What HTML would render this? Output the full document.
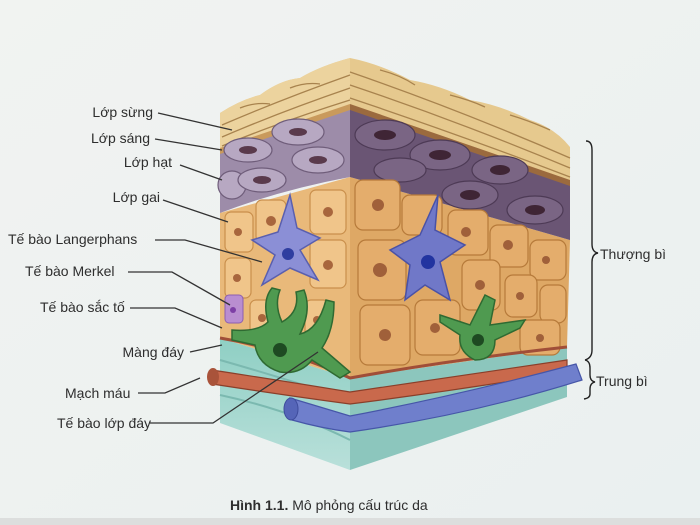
<!DOCTYPE html>
<html><head><meta charset="utf-8"><style>
html,body{margin:0;padding:0;background:#eef1ef;}
svg{display:block}
text{font-family:"Liberation Sans",sans-serif;fill:#2e2e2e;}
</style></head><body>
<svg width="700" height="525" viewBox="0 0 700 525" xmlns="http://www.w3.org/2000/svg">
<defs>
<linearGradient id="bg" x1="0" y1="0" x2="1" y2="1"><stop offset="0" stop-color="#f1f3f1"/><stop offset="1" stop-color="#eaf0f0"/></linearGradient>
<linearGradient id="derm" x1="0" y1="0" x2="0" y2="1"><stop offset="0" stop-color="#8fcfc4"/><stop offset="1" stop-color="#b9e0da"/></linearGradient>
</defs>
<rect width="700" height="525" fill="url(#bg)"/>
<rect y="518" width="700" height="7" fill="#dcdedd"/>

<!-- dermis -->
<polygon points="220,338 350,378 350,470 220,423" fill="url(#derm)"/>
<polygon points="350,378 567,347 567,397 350,470" fill="#8cc6bd"/>
<path d="M220,360 Q290,380 350,400 M220,395 Q290,410 350,440 M350,420 Q450,400 567,375" stroke="#7bb9b0" stroke-width="2" fill="none"/>
<!-- orange -->
<polygon points="220,213 350,177 350,378 220,338" fill="#e9b97a"/>
<polygon points="350,177 570,240 567,347 350,378" fill="#dea865"/>
<!-- purple -->
<path d="M220,150 L350,107 L570,183 L570,240 Q460,205 350,177 Q280,190 220,213 Z" fill="#9d8ca9"/>
<polygon points="350,107 570,183 570,240 350,177" fill="#6a5574"/>
<!-- corneum with wavy top -->
<path d="M220,150 L220,113 Q240,100 260,95 Q280,80 300,78 Q320,66 350,58 Q380,64 410,80 Q440,85 470,100 Q500,105 530,120 Q555,128 570,147 L570,183 L350,107 Z" fill="#e6c98e"/>
<path d="M350,58 L350,107 L220,150 L220,113 Q240,100 260,95 Q280,80 300,78 Q320,66 350,58Z" fill="#ecd39e"/>
<g stroke="#a8834e" stroke-width="1.3" fill="none">
<path d="M222,125 Q280,100 350,75 M222,137 Q280,112 350,88 M222,146 Q280,122 350,100"/>
<path d="M350,72 Q460,110 570,158 M350,85 Q460,122 570,168 M350,98 Q460,135 570,177"/>
<path d="M240,108 q15,-6 30,-4 M290,88 q15,-6 30,-4 M380,70 q20,5 35,15 M450,95 q20,5 35,12 M510,115 q20,6 40,15"/>
</g>
<path d="M350,104 L570,180 L570,186 L350,110 Z" fill="#9b6a3e"/>
<path d="M220,148 L350,104 L350,110 L220,154Z" fill="#c99a5c"/>

<!-- purple cells front -->
<g fill="#b7a8c2" stroke="#6f5d7a" stroke-width="1.2">
<ellipse cx="248" cy="150" rx="24" ry="12"/><ellipse cx="298" cy="132" rx="26" ry="13"/><ellipse cx="232" cy="185" rx="14" ry="14"/><ellipse cx="262" cy="180" rx="24" ry="12"/><ellipse cx="318" cy="160" rx="26" ry="13"/>
</g>
<g fill="#5a3a4c"><ellipse cx="248" cy="150" rx="9" ry="4"/><ellipse cx="298" cy="132" rx="9" ry="4"/><ellipse cx="262" cy="180" rx="9" ry="4"/><ellipse cx="318" cy="160" rx="9" ry="4"/></g>
<g fill="#7a6584" stroke="#4d3a55" stroke-width="1.2">
<ellipse cx="385" cy="135" rx="30" ry="15"/><ellipse cx="440" cy="155" rx="30" ry="15"/><ellipse cx="500" cy="170" rx="28" ry="14"/><ellipse cx="400" cy="170" rx="26" ry="12"/><ellipse cx="470" cy="195" rx="28" ry="14"/><ellipse cx="535" cy="210" rx="28" ry="14"/>
</g>
<g fill="#3f2535"><ellipse cx="385" cy="135" rx="11" ry="5"/><ellipse cx="440" cy="155" rx="11" ry="5"/><ellipse cx="500" cy="170" rx="10" ry="5"/><ellipse cx="470" cy="195" rx="10" ry="5"/><ellipse cx="535" cy="210" rx="10" ry="5"/></g>

<!-- orange cells -->
<g fill="#f0c58a" stroke="#c98f4c" stroke-width="1.2">
<rect x="225" y="212" width="28" height="40" rx="6"/><rect x="256" y="200" width="30" height="42" rx="6"/><rect x="310" y="190" width="36" height="44" rx="6"/>
<rect x="225" y="258" width="26" height="40" rx="6"/><rect x="310" y="240" width="36" height="48" rx="6"/>
<rect x="250" y="300" width="24" height="36" rx="6"/><rect x="305" y="300" width="24" height="40" rx="6"/>
</g>
<g fill="#a8663d"><circle cx="238" cy="232" r="4"/><circle cx="271" cy="221" r="5"/><circle cx="328" cy="212" r="5"/><circle cx="237" cy="278" r="4"/><circle cx="328" cy="265" r="5"/><circle cx="262" cy="318" r="4"/><circle cx="317" cy="320" r="4"/></g>
<g fill="#e4ad6c" stroke="#b67a3a" stroke-width="1.2">
<rect x="355" y="180" width="45" height="50" rx="8"/><rect x="402" y="195" width="40" height="40" rx="8"/><rect x="448" y="210" width="40" height="45" rx="8"/><rect x="490" y="225" width="38" height="42" rx="8"/><rect x="530" y="240" width="36" height="40" rx="8"/>
<rect x="358" y="240" width="48" height="60" rx="8"/><rect x="462" y="260" width="38" height="50" rx="8"/><rect x="505" y="275" width="32" height="42" rx="8"/><rect x="540" y="285" width="26" height="38" rx="8"/>
<rect x="360" y="305" width="50" height="60" rx="8"/><rect x="415" y="300" width="45" height="55" rx="8"/><rect x="520" y="320" width="40" height="35" rx="8"/>
</g>
<g fill="#a0603a"><circle cx="378" cy="205" r="6"/><circle cx="466" cy="232" r="5"/><circle cx="508" cy="245" r="5"/><circle cx="546" cy="260" r="4"/><circle cx="380" cy="270" r="7"/><circle cx="480" cy="285" r="5"/><circle cx="520" cy="296" r="4"/><circle cx="385" cy="335" r="6"/><circle cx="435" cy="328" r="5"/><circle cx="540" cy="338" r="4"/></g>

<path d="M220,338 Q290,350 350,378 Q450,360 567,347" stroke="#a04e38" stroke-width="3" fill="none"/>

<!-- Langerhans -->
<path d="M290,195 L297,228 L320,238 L300,250 L318,280 L290,268 L262,285 L275,255 L252,240 L278,232 Z" fill="#8b8fd6" stroke="#5a5fae" stroke-width="1.5"/>
<circle cx="288" cy="254" r="6" fill="#2f3ea0"/>
<path d="M438,195 L435,230 L465,245 L440,262 L450,300 L425,285 L405,300 L410,265 L390,250 L420,235 Z" fill="#7078c8" stroke="#4a52a6" stroke-width="1.5"/>
<circle cx="428" cy="262" r="7" fill="#2234a0"/>
<rect x="225" y="295" width="18" height="28" rx="4" fill="#b98ed0" stroke="#8c5fb0"/>
<circle cx="233" cy="310" r="3" fill="#7d3fa5"/>
<!-- melanocytes -->
<path d="M232,330 Q258,332 268,322 Q262,300 272,288 L280,290 Q274,305 282,322 Q300,312 296,292 L304,290 Q312,310 300,334 Q318,330 326,300 L334,302 Q334,330 322,348 L350,372 L340,378 L312,360 Q300,375 280,372 Q258,365 255,345 L232,340 Z" fill="#4f9a50" stroke="#2f6a32" stroke-width="1.5"/>
<circle cx="280" cy="350" r="7" fill="#1e4a22"/>
<path d="M440,315 L470,325 L485,295 L495,300 L490,325 L525,320 L520,328 L495,340 Q495,360 475,360 Q458,352 460,335 L440,322 Z" fill="#4f9a50" stroke="#2f6a32" stroke-width="1.5"/>
<circle cx="478" cy="340" r="6" fill="#1e4a22"/>

<!-- vessels -->
<path d="M212,370 Q290,382 350,392 Q460,376 567,360 L567,372 Q460,390 350,404 Q290,396 212,384 Z" fill="#c9694c" stroke="#8a3f2a" stroke-width="1.2"/>
<ellipse cx="213" cy="377" rx="6" ry="9" fill="#a9533a"/>
<path d="M290,398 Q330,410 350,416 Q460,395 576,364 L582,380 Q470,415 350,432 Q320,428 292,420 Z" fill="#6f7fcc" stroke="#4656a8" stroke-width="1.2"/>
<ellipse cx="291" cy="409" rx="7" ry="11" fill="#5565b8" stroke="#3e4c9c"/>

<g stroke="#333" stroke-width="1.3" fill="none">
<path d="M158,113 L232,130"/><path d="M155,139 L222,150"/><path d="M180,165 L222,180"/><path d="M163,200 L228,222"/>
<path d="M155,240 L185,240 L262,262"/><path d="M128,272 L172,272 L230,305"/><path d="M130,308 L175,308 L222,328"/>
<path d="M190,352 L222,345"/><path d="M138,393 L165,393 L200,378"/><path d="M150,423 L213,423 L318,352"/>
</g>
<g font-size="14">
<text x="153" y="117" text-anchor="end">Lớp sừng</text>
<text x="150" y="143" text-anchor="end">Lớp sáng</text>
<text x="172" y="167" text-anchor="end">Lớp hạt</text>
<text x="160" y="202" text-anchor="end">Lớp gai</text>
<text x="8" y="244">Tế bào Langerphans</text>
<text x="25" y="276">Tế bào Merkel</text>
<text x="40" y="312">Tế bào sắc tố</text>
<text x="184" y="357" text-anchor="end">Màng đáy</text>
<text x="65" y="398">Mạch máu</text>
<text x="57" y="428">Tế bào lớp đáy</text>
<text x="600" y="259">Thượng bì</text>
<text x="596" y="386">Trung bì</text>
</g>
<g stroke="#222" stroke-width="1.4" fill="none">
<path d="M586,141 Q592,141 592,150 L592,244 Q592,252 598,253 Q592,254 592,262 L592,350 Q592,358 585,360"/>
<path d="M585,360 Q590,361 590,368 L590,375 Q590,381 595,382 Q590,383 590,389 L590,394 Q590,398 584,399"/>
</g>
<text x="230" y="510" font-size="14"><tspan font-weight="bold">Hình 1.1.</tspan> Mô phỏng cấu trúc da</text>
</svg>
</body></html>
